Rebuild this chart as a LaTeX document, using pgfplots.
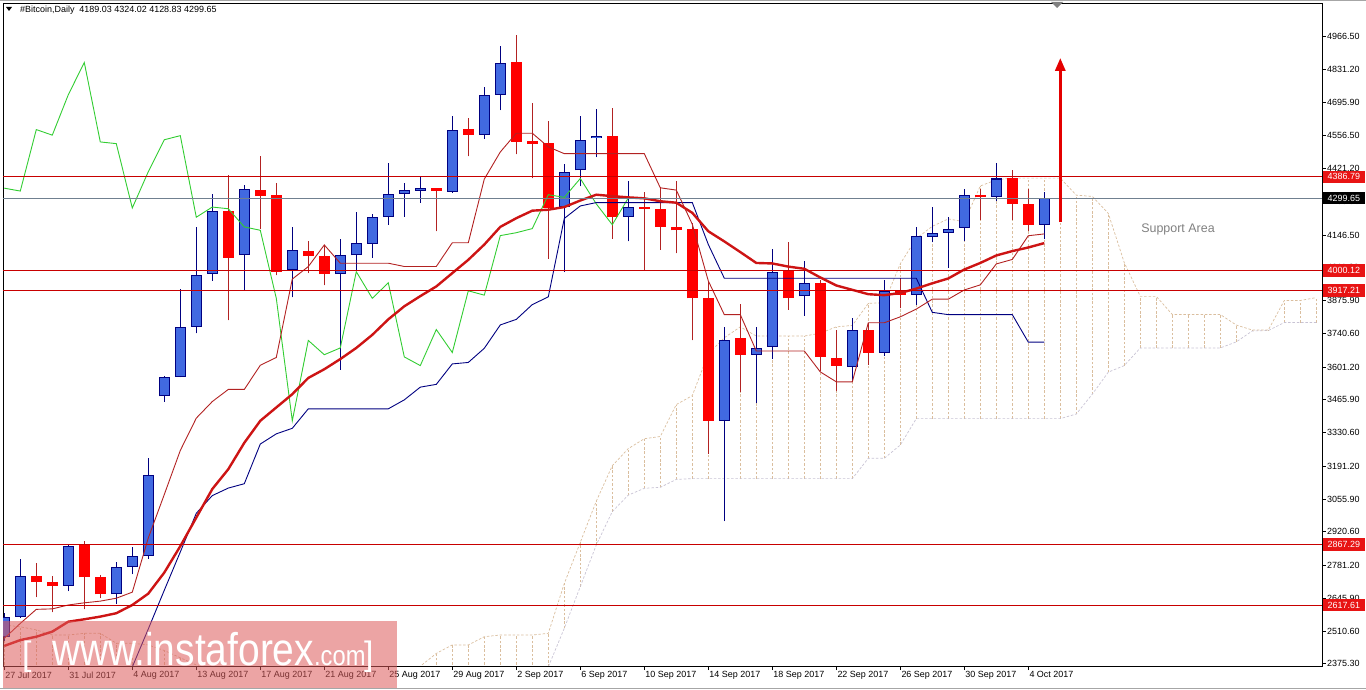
\documentclass[border=0pt]{standalone}
\usepackage{pgfplots}
\pgfplotsset{compat=1.18}
\usepackage{pgfplotstable}
\usepackage{fontspec}
\setmainfont{Liberation Sans}
\usetikzlibrary{arrows.meta}
\newcommand{\tf}{\fontsize{9}{10}\selectfont}
\definecolor{upfill}{RGB}{65,105,225}
\definecolor{upedge}{RGB}{0,0,128}
\definecolor{dnfill}{RGB}{255,0,0}
\definecolor{dnwick}{RGB}{178,34,34}
\definecolor{tenkan}{RGB}{178,34,34}
\definecolor{kijun}{RGB}{0,0,128}
\definecolor{chikou}{RGB}{50,205,50}
\definecolor{ma}{RGB}{205,20,20}
\definecolor{spanA}{RGB}{218,190,158}
\definecolor{spanB}{RGB}{200,195,212}
\definecolor{lvl}{RGB}{200,0,0}
\definecolor{pline}{RGB}{112,128,144}
\definecolor{lvbox}{RGB}{232,20,20}
\definecolor{sagray}{RGB}{128,128,128}
\definecolor{wmpink}{RGB}{220,90,90}
\definecolor{arrowred}{RGB}{228,0,0}
\pgfplotsset{eb/.style={only marks, mark=*, mark size=0pt, mark options={draw=none,fill=none}, forget plot}}

\pgfplotstableread{
i o h l c
0 2487 2586 2470 2570
1 2570 2806 2565 2737
4 2697 2864 2675 2861
7 2662 2795 2624 2775
8 2775 2857 2746 2821
9 2821 3225 2810 3155
10 3480 3563 3458 3561
11 3561 3925 3559 3767
12 3767 4180 3740 3982
13 3987 4317 3958 4244
15 4062 4353 3916 4335
18 4002 4180 3889 4084
21 3985 4129 3589 4062
22 4062 4240 3998 4113
23 4111 4235 4053 4222
24 4220 4444 4189 4317
25 4317 4362 4222 4331
26 4329 4386 4280 4340
28 4326 4640 4322 4582
30 4559 4757 4544 4726
31 4726 4926 4662 4859
35 4262 4438 3993 4408
36 4413 4640 4347 4540
37 4546 4666 4468 4557
39 4222 4371 4120 4262
45 3379 3765 2964 3711
47 3652 3765 3452 3680
48 3685 4089 3634 3995
50 3893 4040 3812 3949
53 3603 3803 3543 3756
55 3661 3962 3647 3916
57 3898 4180 3858 4144
58 4140 4262 4116 4156
59 4156 4220 4011 4173
60 4175 4338 4120 4313
62 4304 4444 4289 4380
65 4189.03 4324.02 4128.83 4299.65
}\upc

\pgfplotstableread{
i o h l c
2 2737 2792 2651 2712
3 2713 2739 2588 2695
5 2866 2882 2600 2732
6 2732 2744 2646 2662
14 4244 4393 3794 4053
16 4331 4471 4171 4309
17 4311 4362 3980 3995
19 4080 4120 3989 4058
20 4058 4102 3938 3985
27 4340 4342 4162 4328
29 4584 4631 4471 4559
32 4862 4972 4480 4531
33 4535 4690 4380 4524
34 4526 4617 4049 4258
38 4557 4671 4131 4220
40 4264 4326 4002 4255
41 4256 4344 4085 4180
42 4180 4371 4071 4166
43 4171 4198 3711 3885
44 3885 3953 3243 3379
46 3720 3862 3498 3652
49 3998 4116 3838 3885
51 3949 3962 3583 3643
52 3640 3756 3501 3607
54 3756 3783 3610 3661
56 3916 3967 3843 3898
61 4313 4338 4207 4302
63 4380 4417 4207 4275
64 4276 4335 4162 4189
}\dnc

\pgfplotstableread{
i t k m
0 2480 nan 2449
1 2542 nan 2473
2 2600 nan 2487
3 2602 nan 2508
4 2618 nan 2549
5 2627 nan 2559
6 2634 nan 2570
7 2646 nan 2584
8 2671 2362 2618
9 2895 2519 2665
10 3074.5 2679 2752
11 3256.5 2837 2861
12 3390 2997 2979
13 3458.5 3070 3097
14 3508.5 3101 3179
15 3508.5 3119 3288
16 3608.5 3283 3379
17 3640.5 3325 3434
18 3964.5 3348 3489
19 4016 3428.5 3556
20 4105.5 3428.5 3592
21 4030 3428.5 3634
22 4030 3428.5 3680
23 4030 3428.5 3734
24 4030 3428.5 3798
25 4016.5 3465.5 3852
26 4016.5 3518 3894
27 4016.5 3529.5 3934
28 4114.5 3614 3989
29 4114.5 3620 4044
30 4377.5 3678.5 4107
31 4489.5 3775 4180
32 4567 3798 4216
33 4567 3859 4247
34 4510.5 3891 4251
35 4482.5 4215 4262
36 4482.5 4266.5 4289
37 4482.5 4280.5 4313
38 4482.5 4280.5 4307
39 4482.5 4280.5 4302
40 4482.5 4280.5 4298
41 4341.5 4280.5 4286
42 4332 4280.5 4280
43 4191 4280.5 4238
44 3957 4107.5 4162
45 3817.5 3968 4120
46 3817.5 3968 4076
47 3667.5 3968 4031
48 3667.5 3968 4029
49 3667.5 3968 4016
50 3667.5 3968 4007
51 3581 3968 3971
52 3540 3968 3938
53 3540 3968 3920
54 3784 3968 3902
55 3784 3968 3898
56 3808.5 3968 3907
57 3840.5 3968 3925
58 3881.5 3827 3947
59 3881.5 3817.5 3967
60 3919.5 3817.5 4004
61 3940.5 3817.5 4031
62 4027 3817.5 4062
63 4045.5 3817.5 4080
64 4143.5 3704 4095
65 4151 3704 4113
}\ind

\pgfplotstableread{
x v
0 4340
1 4328
2 4582
3 4559
4 4726
5 4859
6 4531
7 4524
8 4258
9 4408
10 4540
11 4557
12 4220
13 4262
14 4255
15 4180
16 4166
17 3885
18 3379
19 3711
20 3652
21 3680
22 3995
23 3885
24 3949
25 3643
26 3607
27 3756
28 3661
29 3916
30 3898
31 4144
32 4156
33 4173
34 4313
35 4302
36 4380
37 4275
38 4189
39 4299.65
}\chik

\pgfplotstableread{
x A B
0 2535 2300
1 2528 2300
2 2515 2300
3 2494 2300
4 2494 2300
5 2501 2300
6 2501 2300
7 2460 2300
8 2460 2300
9 2453 2300
10 2430 2300
11 2400 2300
12 2370 2300
13 2345 2300
14 2330 2300
15 2330 2300
16 2330 2300
17 2330 2300
18 2330 2300
19 2330 2300
20 2330 2300
21 2330 2300
22 2330 2300
23 2330 2300
24 2330 2300
25 2330 2300
26 2365 2300
27 2418 2300
28 2453 2300
29 2453 2300
30 2487 2300
31 2494 2300
32 2494 2300
33 2494 2300
34 2501 2362
35 2707 2522
36 2877 2694
37 3047 2866
38 3193.5 3004
39 3264 3072
40 3305 3100
41 3314 3104
42 3446 3137
43 3483 3140
44 3656 3140
45 3722 3140
46 3767 3140
47 3729 3140
48 3729 3140
49 3729 3140
50 3729 3140
51 3741 3140
52 3767 3140
53 3773 3140
54 3864 3224
55 3867 3224
56 4028 3279
57 4132 3388
58 4182.5 3388
59 4213 3388
60 4201 3388
61 4349 3388
62 4374.5 3388
63 4381.5 3388
64 4381.5 3388
65 4381.5 3388
66 4381.5 3388
67 4311 3407
68 4306 3489
69 4236 3580
70 4032 3607
71 3893 3680
72 3893 3680
73 3818 3680
74 3818 3680
75 3818 3680
76 3818 3680
77 3774.5 3705
78 3754 3750
79 3754 3752
80 3876 3785
81 3876 3785
82 3888 3785
}\cloud

\begin{document}
\begin{tikzpicture}
\useasboundingbox (0,0) rectangle (1366bp,690bp);
\begin{axis}[
  at={(3bp,24bp)}, anchor=south west,
  scale only axis, width=1319bp, height=663bp,
  xmin=-0.081, xmax=82.356, ymin=2366, ymax=5105,
  axis line style={black, line width=0.8bp},
  tick align=outside, major tick length=4bp,
  every tick/.style={black, line width=0.8bp},
  xtick pos=left, ytick pos=right, yticklabel pos=right,
  xtick={0,4,...,64},
  xticklabels={27 Jul 2017,31 Jul 2017,4 Aug 2017,13 Aug 2017,17 Aug 2017,21 Aug 2017,25 Aug 2017,29 Aug 2017,2 Sep 2017,6 Sep 2017,10 Sep 2017,14 Sep 2017,18 Sep 2017,22 Sep 2017,26 Sep 2017,30 Sep 2017,4 Oct 2017},
  ytick={2375.3,2510.6,2645.9,2781.2,2920.6,3055.9,3191.2,3330.6,3465.9,3601.2,3740.6,3875.9,4011.2,4146.5,4285.9,4421.2,4556.5,4695.9,4831.2,4966.5},
  yticklabels={2375.30,2510.60,2645.90,2781.20,2920.60,3055.90,3191.20,3330.60,3465.90,3601.20,3740.60,3875.90,4011.20,4146.50,4285.90,4421.20,4556.50,4695.90,4831.20,4966.50},
  xticklabel style={font=\tf, anchor=north west, inner sep=0pt, xshift=1bp, yshift=-1.5bp},
  yticklabel style={font=\tf, anchor=west, inner sep=0pt, xshift=1bp},
]
% Ichimoku cloud hatching
\addplot[eb, error bars/.cd, y dir=plus, y explicit, error mark=none,
  error bar style={draw=spanA, line width=0.7bp, dash pattern=on 2.5bp off 1.8bp}]
  table[x=x, y=B, y error expr=\thisrow{A}-\thisrow{B}] {\cloud};
\addplot[spanB, line width=0.7bp, dash pattern=on 2.5bp off 1.8bp, mark=none] table[x=x, y=B] {\cloud};
\addplot[spanA, line width=0.7bp, dash pattern=on 2.5bp off 1.8bp, mark=none] table[x=x, y=A] {\cloud};
% wicks
\addplot[eb, error bars/.cd, y dir=plus, y explicit, error mark=none,
  error bar style={draw=upedge, line width=1bp, solid}]
  table[x=i, y=l, y error expr=\thisrow{h}-\thisrow{l}] {\upc};
\addplot[eb, error bars/.cd, y dir=plus, y explicit, error mark=none,
  error bar style={draw=dnwick, line width=1bp, solid}]
  table[x=i, y=l, y error expr=\thisrow{h}-\thisrow{l}] {\dnc};
% bodies
\addplot[eb, error bars/.cd, y dir=plus, y explicit, error mark=none,
  error bar style={draw=upedge, line width=11bp, solid}]
  table[x=i, y=o, y error expr=\thisrow{c}-\thisrow{o}] {\upc};
\addplot[eb, error bars/.cd, y dir=plus, y explicit, error mark=none,
  error bar style={draw=upfill, line width=9bp, solid}]
  table[x=i, y expr=\thisrow{o}+4.2, y error expr=\thisrow{c}-\thisrow{o}-8.4] {\upc};
\addplot[eb, error bars/.cd, y dir=plus, y explicit, error mark=none,
  error bar style={draw=dnfill, line width=11bp, solid}]
  table[x=i, y=c, y error expr=\thisrow{o}-\thisrow{c}] {\dnc};
% indicator lines
\addplot[chikou, line width=0.9bp, mark=none] table[x=x, y=v] {\chik};
\addplot[kijun, line width=0.9bp, mark=none] table[x=i, y=k] {\ind};
\addplot[tenkan, line width=0.9bp, mark=none] table[x=i, y=t] {\ind};
\addplot[ma, line width=2.4bp, mark=none] table[x=i, y=m] {\ind};
% horizontal levels
\addplot[lvl, line width=0.8bp, mark=none] coordinates {(-0.081,4386.79) (82.356,4386.79)};
\addplot[pline, line width=0.8bp, mark=none] coordinates {(-0.081,4299.65) (82.356,4299.65)};
\addplot[lvl, line width=0.8bp, mark=none] coordinates {(-0.081,4000.12) (82.356,4000.12)};
\addplot[lvl, line width=0.8bp, mark=none] coordinates {(-0.081,3917.21) (82.356,3917.21)};
\addplot[lvl, line width=0.8bp, mark=none] coordinates {(-0.081,2867.29) (82.356,2867.29)};
\addplot[lvl, line width=0.8bp, mark=none] coordinates {(-0.081,2617.61) (82.356,2617.61)};
% arrow
\addplot[arrowred, line width=3bp, mark=none, -{Triangle[width=10bp,length=13bp]}] coordinates {(66,4200) (66,4878)};
\coordinate (L1) at (axis cs:82.356,4386.79);
\coordinate (L2) at (axis cs:82.356,4299.65);
\coordinate (L3) at (axis cs:82.356,4000.12);
\coordinate (L4) at (axis cs:82.356,3917.21);
\coordinate (L5) at (axis cs:82.356,2867.29);
\coordinate (L6) at (axis cs:82.356,2617.61);
\end{axis}
% level labels
\tikzset{lv/.style={anchor=west, font=\tf, text=white, inner xsep=4.5bp, inner ysep=0pt, minimum height=12.5bp}}
\node[lv, fill=lvbox] at ([xshift=1bp]L1) {4386.79};
\node[lv, fill=black] at ([xshift=1bp]L2) {4299.65};
\node[lv, fill=lvbox] at ([xshift=1bp]L3) {4000.12};
\node[lv, fill=lvbox] at ([xshift=1bp]L4) {3917.21};
\node[lv, fill=lvbox] at ([xshift=1bp]L5) {2867.29};
\node[lv, fill=lvbox] at ([xshift=1bp]L6) {2617.61};
% title
\fill[black] (6bp,683bp) -- (12bp,683bp) -- (9bp,679bp) -- cycle;
\node[anchor=base west, font=\tf, inner sep=0pt] at (20bp,677bp) {\#Bitcoin,Daily\ \ 4189.03 4324.02 4128.83 4299.65};
\fill[sagray] (1051bp,688bp) -- (1063bp,688bp) -- (1057bp,682bp) -- cycle;
% support area
\node[text=sagray, font=\fontsize{12.5}{14}\selectfont] at (1178bp,461bp) {Support Area};
% watermark
\fill[wmpink, opacity=0.55] (3bp,2bp) rectangle (397bp,69bp);
\node[anchor=base west, text=white, inner sep=0pt, font=\fontsize{34}{34}\selectfont] at (22bp,25bp) {[};
\node[anchor=base west, text=white, inner sep=0pt, font=\fontsize{46}{46}\selectfont] at (52bp,25bp) {\scalebox{0.85}[1]{www.instaforex}\scalebox{0.85}[1]{\fontsize{28}{28}\selectfont.com}};
\node[anchor=base west, text=white, inner sep=0pt, font=\fontsize{34}{34}\selectfont] at (364bp,25bp) {]};
% window borders
\draw[gray!70, line width=0.8bp] (0,689.4bp) -- (1366bp,689.4bp);
\draw[gray!70, line width=0.8bp] (0,1.5bp) -- (1366bp,1.5bp);
\end{tikzpicture}
\end{document}
